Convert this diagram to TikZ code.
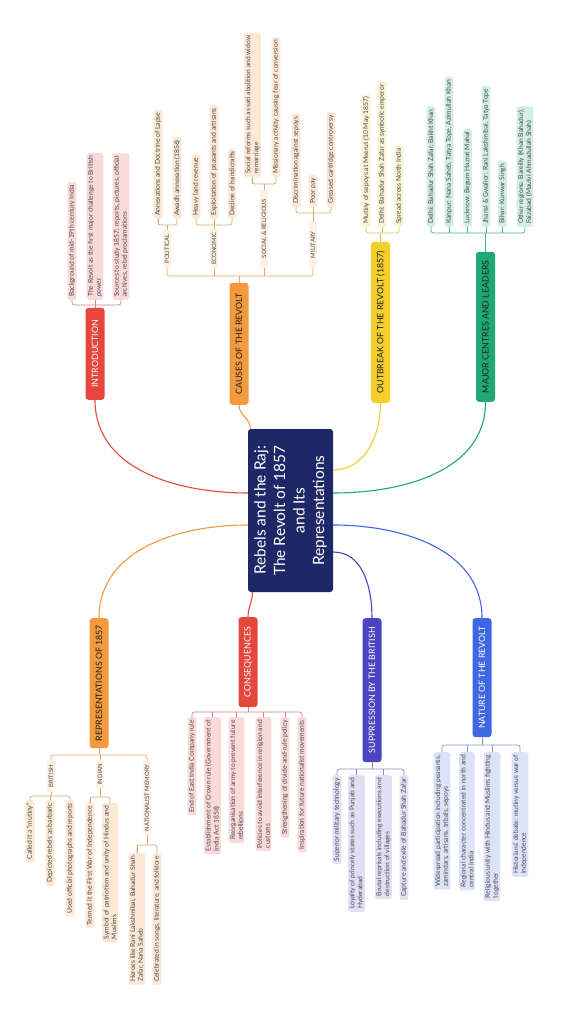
\documentclass[tikz,border=0pt]{standalone}
\usepackage{fontspec}
\setmainfont{Lato}
\usetikzlibrary{calc}
\definecolor{navy}{HTML}{1E2767}
\definecolor{red1}{HTML}{E5473D}
\definecolor{orange1}{HTML}{F39A3F}
\definecolor{yellow1}{HTML}{F2CF2B}
\definecolor{green1}{HTML}{1FA873}
\definecolor{indigo1}{HTML}{4A44C2}
\definecolor{blue1}{HTML}{3F66E3}
\definecolor{pinkL}{HTML}{FAD9D9}
\definecolor{peachL}{HTML}{FCE8D5}
\definecolor{yellowL}{HTML}{FBF4D3}
\definecolor{greenL}{HTML}{D3EFE2}
\definecolor{lavL}{HTML}{E0DFF4}
\definecolor{blueL}{HTML}{DCE3F8}
\definecolor{subL}{HTML}{FDF1E4}
\definecolor{frRed}{HTML}{CF8580}
\definecolor{frOr}{HTML}{DDAA72}
\definecolor{frYe}{HTML}{D9C565}
\definecolor{frGr}{HTML}{4DB389}
\definecolor{frIn}{HTML}{8C89C6}
\definecolor{frBl}{HTML}{8A9AD0}
\definecolor{leaftxt}{HTML}{4A4A4A}
\definecolor{darktxt}{HTML}{222222}
\tikzset{
  leaf/.style={rotate=90, rounded corners=2.5pt, inner xsep=3pt, inner ysep=1.4pt,
    font=\fontsize{6.7}{7.8}\selectfont, text=leaftxt, align=left},
  tleaf/.style={leaf, anchor=west},
  bleaf/.style={leaf, anchor=east},
  branch/.style={rotate=90, rounded corners=3pt, minimum height=19pt, inner xsep=4pt,
    font=\fontsize{8.8}{10}\selectfont},
  sublabel/.style={rotate=90, rounded corners=2pt, inner xsep=3pt, inner ysep=1.6pt,
    font=\fontsize{6}{7}\selectfont, text=leaftxt, fill=subL},
  link/.style={line width=1.1pt},
  frk/.style={line width=0.7pt}
}
\newcommand\fork[6]{%
  \draw[frk,#1,rounded corners=2.5pt] (#4) -- (#4 |- #3) -- (#5 |- #3) -- (#5);
  \draw[frk,#1] (#2) -- (#2 |- #3);
  \foreach \p in {#6} {\draw[frk,#1] (\p) -- (\p |- #3);}
}
\begin{document}
\begin{tikzpicture}[x=1pt,y=1pt]
\fill[white] (0,0) rectangle (562,-1024);
\useasboundingbox (0,0) rectangle (562,-1024);

% central
\node[rotate=90, fill=navy, text=white, rounded corners=3pt, minimum width=163pt,
  minimum height=85pt, align=center, font=\fontsize{15.5}{19.5}\selectfont]
  (C) at (290.5,-510.5) {Rebels and the Raj:\\The Revolt of 1857\\and Its\\Representations};

% ---------- INTRODUCTION
\node[branch, fill=red1, text=white, anchor=west, minimum width=92pt] (intro) at (95,-400) {INTRODUCTION};
\node[tleaf, fill=pinkL] (i1) at (72,-300) {Background of mid-19th century India};
\node[tleaf, fill=pinkL] (i2) at (95,-300) {The Revolt as the first major challenge to British\\power};
\node[tleaf, fill=pinkL] (i3) at (121,-300) {Sources to study 1857: reports, pictures, official\\archives, rebel proclamations};
\coordinate (bI) at (0,-305);
\fork{frRed}{intro.east}{bI}{i1.west}{i3.west}{i2.west}

% ---------- CAUSES
\node[branch, fill=orange1, text=darktxt, anchor=west, minimum width=122pt] (cau) at (239,-405) {CAUSES OF THE REVOLT};
\node[sublabel, anchor=west, minimum width=38pt] (pol) at (167,-268) {POLITICAL};
\node[sublabel, anchor=west, minimum width=38pt] (eco) at (214,-268) {ECONOMIC};
\node[sublabel, anchor=west, minimum width=78pt] (soc) at (264,-268) {SOCIAL \& RELIGIOUS};
\node[sublabel, anchor=west, minimum width=46pt] (mil) at (313,-268) {MILITARY};
\coordinate (bC) at (0,-276);
\fork{frOr}{cau.east}{bC}{pol.west}{mil.west}{eco.west,soc.west}

\node[tleaf, fill=peachL] (p1) at (158,-219) {Annexations and Doctrine of Lapse};
\node[tleaf, fill=peachL] (p2) at (177,-219) {Awadh annexation (1856)};
\coordinate (bP) at (0,-225);
\fork{frOr}{pol.east}{bP}{p1.west}{p2.west}{p1.west}

\node[tleaf, fill=peachL] (e1) at (196,-219) {Heavy land revenue};
\node[tleaf, fill=peachL] (e2) at (214,-219) {Exploitation of peasants and artisans};
\node[tleaf, fill=peachL] (e3) at (232,-219) {Decline of handicrafts};
\fork{frOr}{eco.east}{bP}{e1.west}{e3.west}{e2.west}

\node[tleaf, fill=peachL] (s1) at (252.5,-177) {Social reforms such as sati abolition and widow\\remarriage};
\node[tleaf, fill=peachL] (s2) at (276,-177) {Missionary activity causing fear of conversion};
\coordinate (bS) at (0,-184);
\fork{frOr}{soc.east}{bS}{s1.west}{s2.west}{s1.west}

\node[tleaf, fill=peachL] (m1) at (296,-207) {Discrimination against sepoys};
\node[tleaf, fill=peachL] (m2) at (313,-207) {Poor pay};
\node[tleaf, fill=peachL] (m3) at (331,-207) {Greased cartridge controversy};
\coordinate (bM) at (0,-213);
\fork{frOr}{mil.east}{bM}{m1.west}{m3.west}{m2.west}

% ---------- OUTBREAK
\node[branch, fill=yellow1, text=darktxt, anchor=west, minimum width=161pt] (out) at (380.5,-403) {OUTBREAK OF THE REVOLT (1857)};
\node[tleaf, fill=yellowL] (o1) at (366,-227) {Mutiny of sepoys at Meerut (10 May 1857)};
\node[tleaf, fill=yellowL] (o2) at (382,-227) {Delhi: Bahadur Shah Zafar as symbolic emperor};
\node[tleaf, fill=yellowL] (o3) at (399,-227) {Spread across North India};
\coordinate (bO) at (0,-233);
\fork{frYe}{out.east}{bO}{o1.west}{o3.west}{o2.west}

% ---------- MAJOR CENTRES
\node[branch, fill=green1, text=darktxt, anchor=west, minimum width=150pt] (maj) at (485.5,-402) {MAJOR CENTRES AND LEADERS};
\node[tleaf, fill=greenL] (j1) at (431,-227) {Delhi: Bahadur Shah Zafar, Bakht Khan};
\node[tleaf, fill=greenL] (j2) at (449,-227) {Kanpur: Nana Saheb, Tatya Tope, Azimullah Khan};
\node[tleaf, fill=greenL] (j3) at (467.5,-227) {Lucknow: Begum Hazrat Mahal};
\node[tleaf, fill=greenL] (j4) at (486,-227) {Jhansi \& Gwalior: Rani Lakshmibai, Tatya Tope};
\node[tleaf, fill=greenL] (j5) at (502.5,-227) {Bihar: Kunwar Singh};
\node[tleaf, fill=greenL] (j6) at (525,-227) {Other regions: Bareilly (Khan Bahadur),\\Faizabad (Maulvi Ahmadullah Shah)};
\coordinate (bJ) at (0,-233);
\fork{frGr}{maj.east}{bJ}{j1.west}{j6.west}{j2.west,j3.west,j4.west,j5.west}

% ---------- REPRESENTATIONS
\node[branch, fill=orange1, text=darktxt, anchor=east, minimum width=130pt] (rep) at (99,-618) {REPRESENTATIONS OF 1857};
\node[sublabel, anchor=east, minimum width=32pt] (bri) at (51,-760) {BRITISH};
\node[sublabel, anchor=east, minimum width=28pt] (ind) at (100,-760) {INDIAN};
\node[sublabel, anchor=east, minimum width=75pt] (nam) at (147,-760) {NATIONALIST MEMORY};
\coordinate (bR) at (0,-755);
\fork{frOr}{rep.west}{bR}{bri.east}{nam.east}{ind.east}

\node[bleaf, fill=peachL] (b1) at (30,-800) {Called it a “mutiny”};
\node[bleaf, fill=peachL] (b2) at (50,-800) {Depicted rebels as barbaric};
\node[bleaf, fill=peachL] (b3) at (70,-800) {Used official photographs and reports};
\coordinate (bB) at (0,-796);
\fork{frOr}{bri.west}{bB}{b1.east}{b3.east}{b2.east}

\node[bleaf, fill=peachL] (n1) at (90,-803) {Termed it the First War of Independence};
\node[bleaf, fill=peachL] (n2) at (110,-803) {Symbol of patriotism and unity of Hindus and\\Muslims};
\coordinate (bN) at (0,-797);
\fork{frOr}{ind.west}{bN}{n1.east}{n2.east}{n1.east}

\node[bleaf, fill=peachL] (t1) at (137,-853) {Heroes like Rani Lakshmibai, Bahadur Shah\\Zafar, Nana Saheb};
\node[bleaf, fill=peachL] (t2) at (157,-853) {Celebrated in songs, literature, and folklore};
\coordinate (bT) at (0,-845);
\fork{frOr}{nam.west}{bT}{t1.east}{t2.east}{t1.east}

% ---------- CONSEQUENCES
\node[branch, fill=red1, text=white, anchor=east, minimum width=90pt] (con) at (248,-617) {CONSEQUENCES};
\node[bleaf, fill=pinkL] (q1) at (192,-717) {End of East India Company rule};
\node[bleaf, fill=pinkL] (q2) at (212.5,-717) {Establishment of Crown rule (Government of\\India Act 1858)};
\node[bleaf, fill=pinkL] (q3) at (236.5,-717) {Reorganisation of army to prevent future\\rebellions};
\node[bleaf, fill=pinkL] (q4) at (263.5,-717) {Policies to avoid interference in religion and\\customs};
\node[bleaf, fill=pinkL] (q5) at (285,-717) {Strengthening of divide-and-rule policy};
\node[bleaf, fill=pinkL] (q6) at (302,-717) {Inspiration for future nationalist movements};
\coordinate (bQ) at (0,-712);
\fork{frRed}{con.west}{bQ}{q1.east}{q6.east}{q2.east,q3.east,q4.east,q5.east}

% ---------- SUPPRESSION
\node[branch, fill=indigo1, text=white, anchor=east, minimum width=144pt] (sup) at (372,-618) {SUPPRESSION BY THE BRITISH};
\node[bleaf, fill=lavL] (u1) at (337,-775) {Superior military technology};
\node[bleaf, fill=lavL] (u2) at (356.5,-775) {Loyalty of princely states such as Punjab and\\Hyderabad};
\node[bleaf, fill=lavL] (u3) at (383.5,-775) {Brutal reprisals including executions and\\destruction of villages};
\node[bleaf, fill=lavL] (u4) at (404,-775) {Capture and exile of Bahadur Shah Zafar};
\coordinate (bU) at (0,-769);
\fork{frIn}{sup.west}{bU}{u1.east}{u4.east}{u2.east,u3.east}

% ---------- NATURE
\node[branch, fill=blue1, text=white, anchor=east, minimum width=119pt] (nat) at (482,-618) {NATURE OF THE REVOLT};
\node[bleaf, fill=blueL] (a1) at (442,-752) {Widespread participation including peasants,\\zamindars, artisans, tribals, sepoys};
\node[bleaf, fill=blueL] (a2) at (467,-752) {Regional character concentrated in north and\\central India};
\node[bleaf, fill=blueL] (a3) at (492,-752) {Religious unity with Hindus and Muslims fighting\\together};
\node[bleaf, fill=blueL] (a4) at (520,-752) {Historians' debate: mutiny versus war of\\independence};
\coordinate (bA) at (0,-745);
\fork{frBl}{nat.west}{bA}{a1.east}{a4.east}{a2.east,a3.east}

% ---------- main connectors
\draw[link, draw=red1] ([yshift=17.5pt]C.north) to[out=180,in=-90] (intro.west);
\draw[link, draw=orange1] ([xshift=-40pt]C.east) to[out=90,in=-90] (cau.west);
\draw[link, draw=yellow1] ([yshift=40.5pt]C.south) to[out=0,in=-90] (out.west);
\draw[link, draw=green1] ([yshift=17.5pt]C.south) to[out=0,in=-90] (maj.west);
\draw[link, draw=orange1] ([yshift=-14.5pt]C.north) to[out=180,in=90] (rep.east);
\draw[link, draw=red1] ([xshift=-38pt]C.west) to[out=-90,in=90] (con.east);
\draw[link, draw=indigo1] ([yshift=-41.5pt]C.south) to[out=0,in=90] (sup.east);
\draw[link, draw=blue1] ([yshift=-14.5pt]C.south) to[out=0,in=90] (nat.east);
\end{tikzpicture}
\end{document}
